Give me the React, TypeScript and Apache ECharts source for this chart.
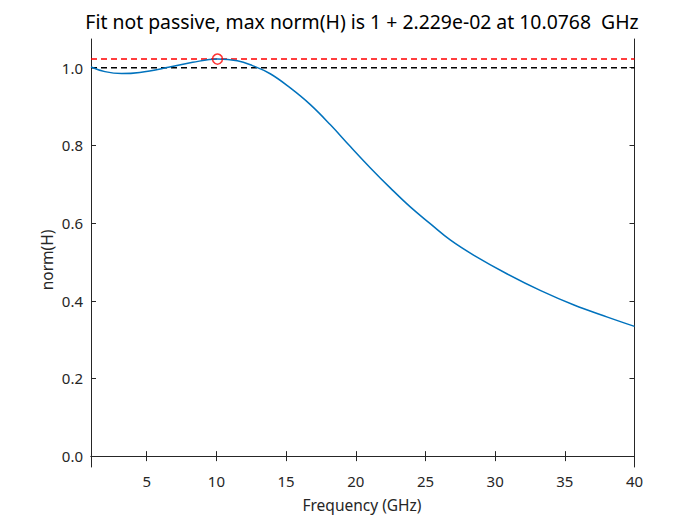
import React, { useEffect, useRef } from "react";
import * as echarts from "echarts";

const freqGHz = [1.0, 2.0, 3.2, 4.5, 6.56, 8.3, 10.08, 11.5, 12.55, 13.86, 15.3, 16.74, 18.18, 19.61, 21.05, 22.49, 23.93, 25.36, 26.8, 28.48, 30.87, 33.27, 35.66, 38.06, 40.0];
const normH = [1.002, 0.99, 0.985, 0.988, 1.001, 1.014, 1.0223, 1.018, 1.006, 0.9845, 0.948, 0.905, 0.853, 0.797, 0.742, 0.69, 0.641, 0.598, 0.556, 0.517, 0.469, 0.426, 0.389, 0.358, 0.334];
const maxFreq = 10.0768;
const maxNorm = 1 + 2.229e-2;
const xTicks = [5, 10, 15, 20, 25, 30, 35, 40];
const yTicks = [0, 0.2, 0.4, 0.6, 0.8, 1.0];
const titleText = "Fit not passive, max norm(H) is 1 + 2.229e-02 at 10.0768  GHz";
const xName = "Frequency (GHz)";
const yName = "norm(H)";

const FONT = "Noto Sans";
const INK = "#262626";

export default function App() {
  const ref = useRef<HTMLDivElement>(null);
  useEffect(() => {
    const chart = echarts.init(ref.current!, null, { renderer: "svg" });
    const axisCommon = {
      type: "value" as const,
      axisLine: { show: true, lineStyle: { color: INK, width: 1 } },
      splitLine: { show: false },
    };
    chart.setOption({
      animation: false,
      backgroundColor: "#ffffff",
      textStyle: { fontFamily: FONT },
      grid: { left: 91, top: 39, right: 65.5, bottom: 58 },
      graphic: [
        {
          type: "text",
          x: 362,
          y: 21,
          style: {
            text: titleText,
            fill: "#000",
            font: `19.4px "${FONT}"`,
            textAlign: "center",
            textVerticalAlign: "middle",
          },
        },
        {
          type: "text",
          x: 362,
          y: 505,
          style: {
            text: xName,
            fill: INK,
            font: `15.5px "${FONT}"`,
            textAlign: "center",
            textVerticalAlign: "middle",
          },
        },
        {
          type: "text",
          x: 47,
          y: 260,
          rotation: Math.PI / 2,
          style: {
            text: yName,
            fill: INK,
            font: `15.5px "${FONT}"`,
            textAlign: "center",
            textVerticalAlign: "middle",
          },
        },
      ],
      xAxis: [
        {
          ...axisCommon,
          position: "bottom",
          min: 1,
          max: 40,
          axisTick: { show: true, inside: true, length: 5, customValues: xTicks, lineStyle: { color: INK } },
          axisLabel: { show: true, customValues: xTicks, color: INK, fontSize: 15, fontFamily: FONT, margin: 6 },
        },
        {
          ...axisCommon,
          position: "top",
          min: 1,
          max: 40,
          axisTick: { show: true, inside: true, length: 5, customValues: xTicks, lineStyle: { color: INK } },
          axisLabel: { show: false },
        },
      ],
      yAxis: [
        {
          ...axisCommon,
          position: "left",
          min: -0.028,
          max: 1.074,
          axisTick: { show: true, inside: true, length: 5, customValues: yTicks, lineStyle: { color: INK } },
          axisLabel: {
            show: true,
            customValues: yTicks,
            color: INK,
            fontSize: 15,
            fontFamily: FONT,
            margin: 8,
            formatter: (v: number) => v.toFixed(1),
          },
        },
        {
          ...axisCommon,
          position: "right",
          min: -0.028,
          max: 1.074,
          axisTick: { show: true, inside: true, length: 5, customValues: yTicks, lineStyle: { color: INK } },
          axisLabel: { show: false },
        },
      ],
      series: [
        {
          type: "line",
          xAxisIndex: 0,
          yAxisIndex: 0,
          data: freqGHz.map((f, i) => [f, normH[i]]),
          smooth: 0.4,
          showSymbol: false,
          lineStyle: { color: "#0072BD", width: 1.5 },
          z: 3,
        },
        {
          type: "line",
          xAxisIndex: 0,
          yAxisIndex: 0,
          data: [[1, 1], [40, 1]],
          showSymbol: false,
          lineStyle: { color: "#000000", width: 1.5, type: [6, 4] },
          z: 2,
        },
        {
          type: "line",
          xAxisIndex: 0,
          yAxisIndex: 0,
          data: [[1, maxNorm], [40, maxNorm]],
          showSymbol: false,
          lineStyle: { color: "#ff0000", width: 1.5, type: [6, 4] },
          z: 2,
        },
        {
          type: "scatter",
          xAxisIndex: 0,
          yAxisIndex: 0,
          data: [[maxFreq, maxNorm]],
          symbol: "circle",
          symbolSize: 10,
          itemStyle: { color: "rgba(0,0,0,0)", borderColor: "#ff0000", borderWidth: 1.5 },
          z: 4,
        },
      ],
    });
    return () => chart.dispose();
  }, []);
  return <div ref={ref} style={{ position: "fixed", left: 0, top: 0, width: 700, height: 525 }} />;
}
